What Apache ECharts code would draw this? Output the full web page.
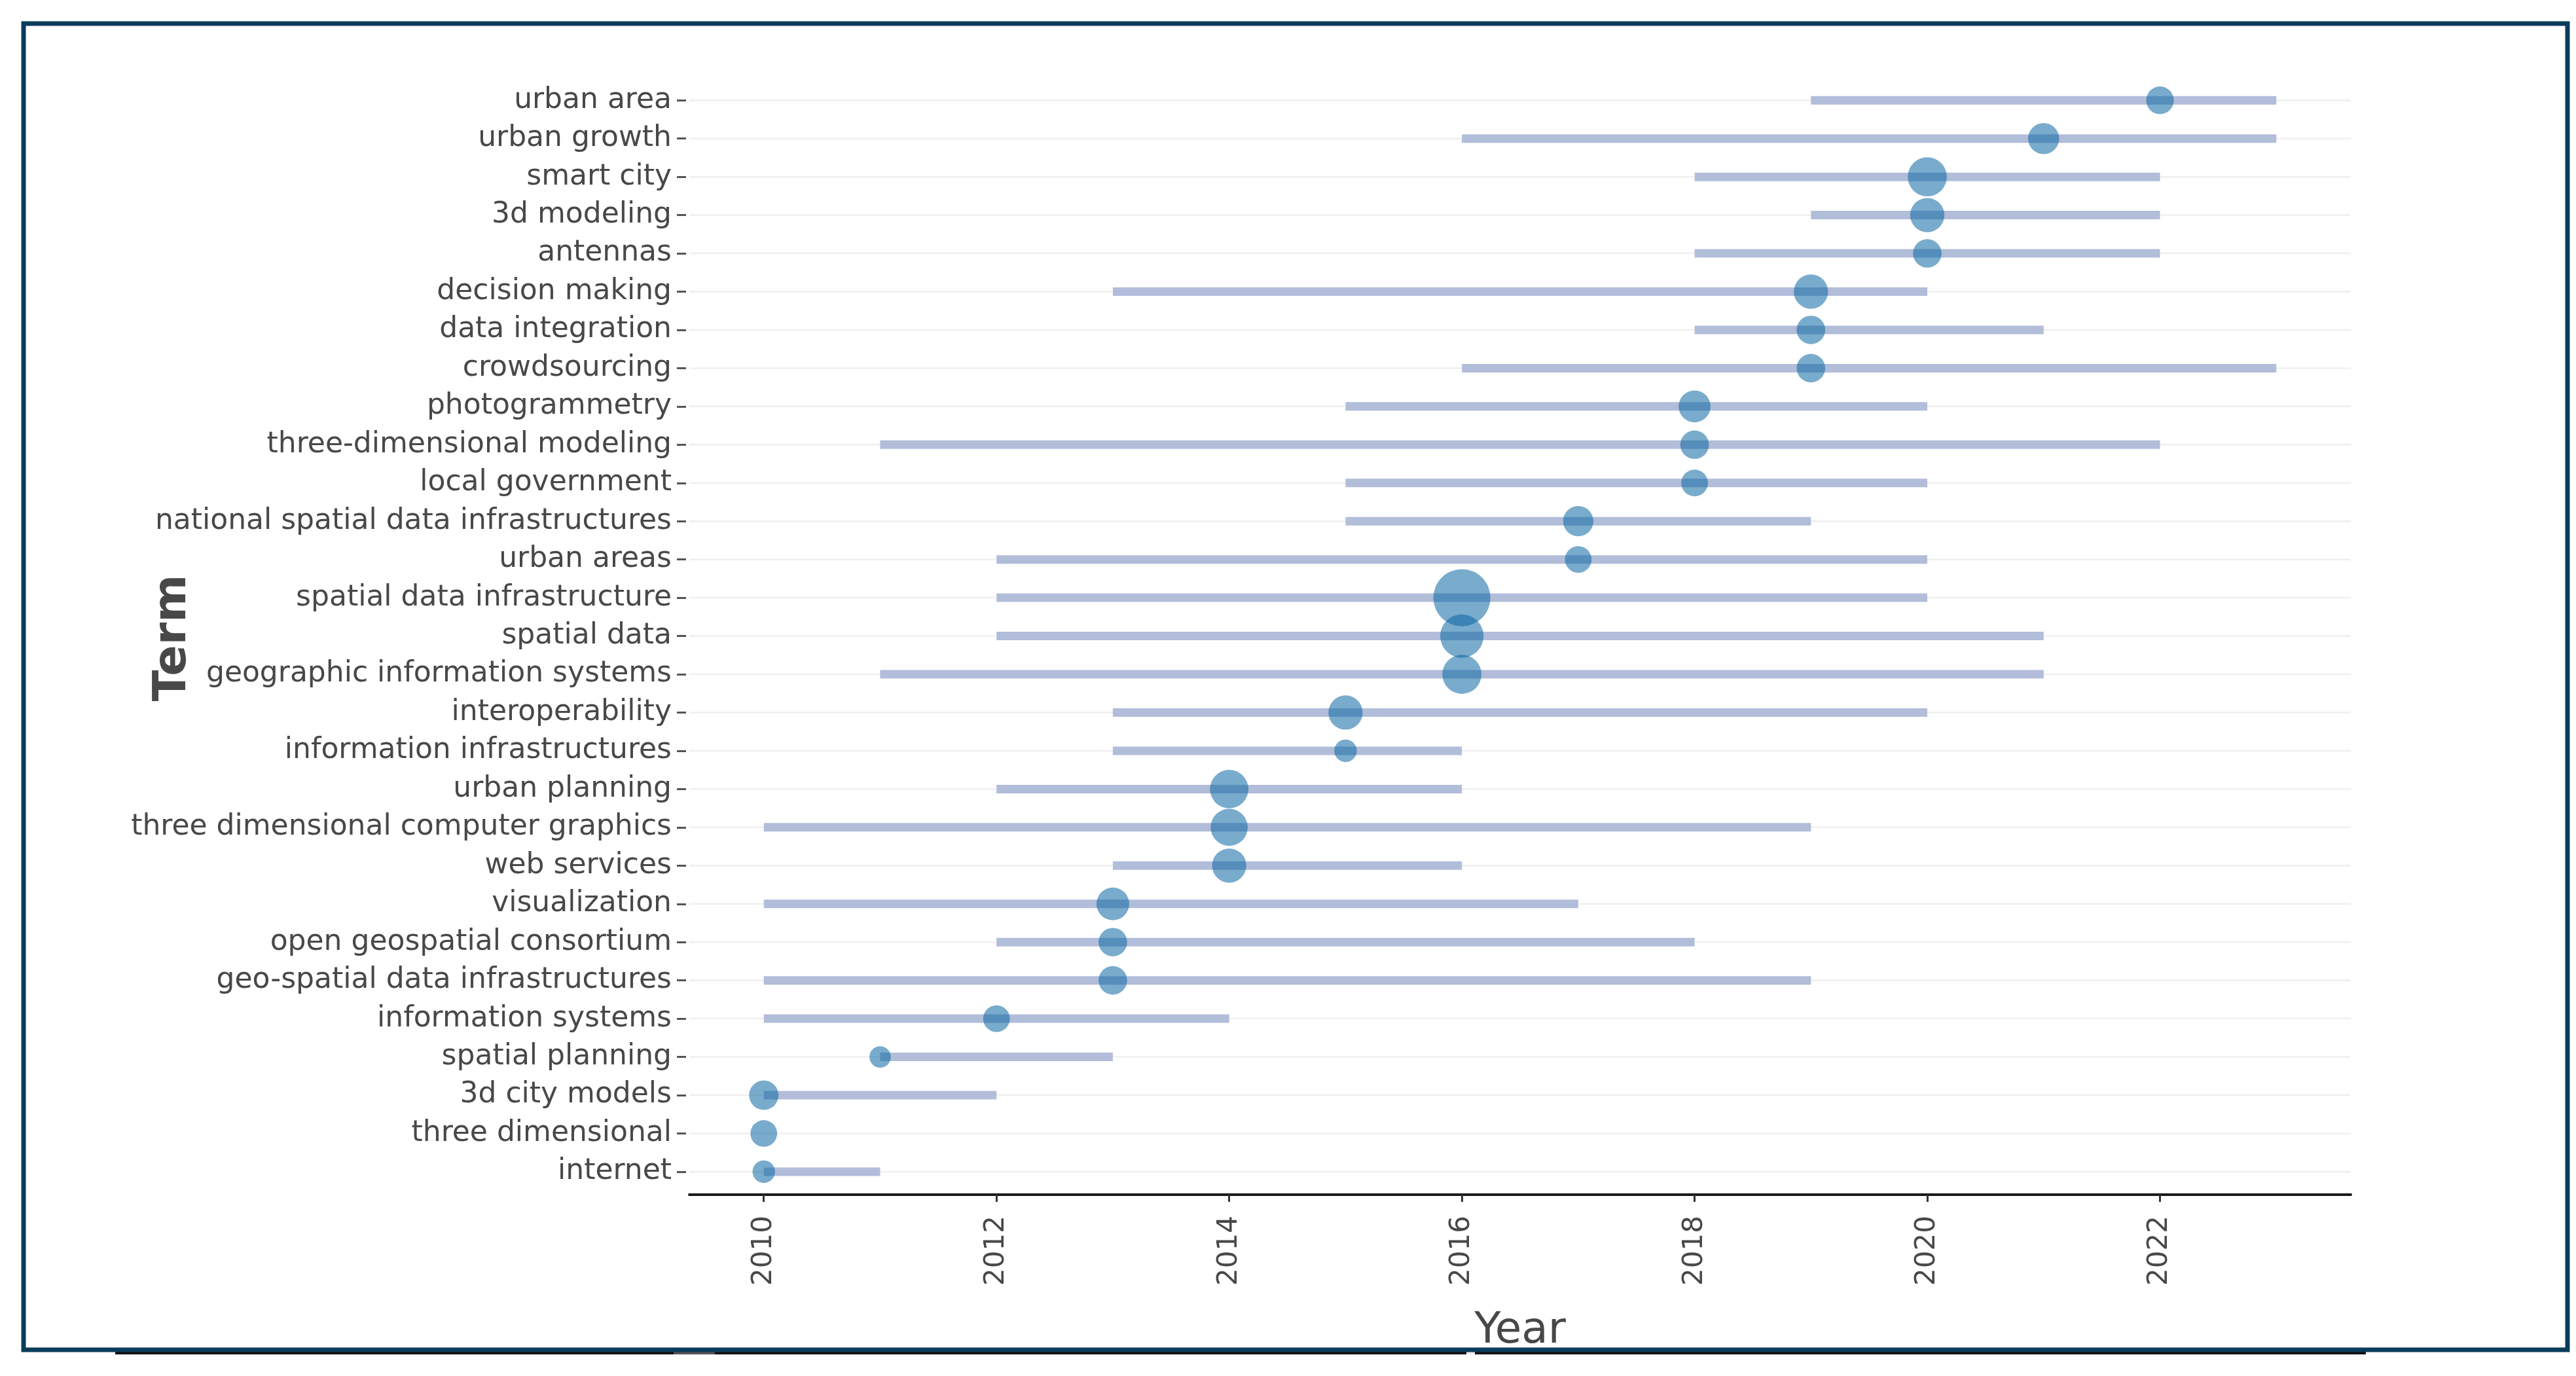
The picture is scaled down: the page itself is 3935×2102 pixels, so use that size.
<!DOCTYPE html>
<html>
<head>
<meta charset="utf-8">
<script src="https://cdn.jsdelivr.net/npm/echarts@6/dist/echarts.min.js"></script>
<style>
  html, body { margin: 0; padding: 0; background: #ffffff; }
  #chart { width: 3935px; height: 2102px; }
</style>
</head>
<body>
<div id="chart"></div>
<script>
// Terms, listed top to bottom as in the chart
const terms = [
  "urban area", "urban growth", "smart city", "3d modeling", "antennas",
  "decision making", "data integration", "crowdsourcing", "photogrammetry",
  "three-dimensional modeling", "local government", "national spatial data infrastructures",
  "urban areas", "spatial data infrastructure", "spatial data", "geographic information systems",
  "interoperability", "information infrastructures", "urban planning",
  "three dimensional computer graphics", "web services", "visualization",
  "open geospatial consortium", "geo-spatial data infrastructures", "information systems",
  "spatial planning", "3d city models", "three dimensional", "internet"
];
// Median year (dot position)
const yearMedian = [
  2022, 2021, 2020, 2020, 2020,
  2019, 2019, 2019, 2018,
  2018, 2018, 2017,
  2017, 2016, 2016, 2016,
  2015, 2015, 2014,
  2014, 2014, 2013,
  2013, 2013, 2012,
  2011, 2010, 2010, 2010
];
// First quartile year (bar start)
const yearQ1 = [
  2019, 2016, 2018, 2019, 2018,
  2013, 2018, 2016, 2015,
  2011, 2015, 2015,
  2012, 2012, 2012, 2011,
  2013, 2013, 2012,
  2010, 2013, 2010,
  2012, 2010, 2010,
  2011, 2010, 2010, 2010
];
// Third quartile year (bar end)
const yearQ3 = [
  2023, 2023, 2022, 2022, 2022,
  2020, 2021, 2023, 2020,
  2022, 2020, 2019,
  2020, 2020, 2021, 2021,
  2020, 2016, 2016,
  2019, 2016, 2017,
  2018, 2019, 2014,
  2013, 2012, 2010, 2011
];
// Term frequency (dot size), estimated
const termFreq = [
  15, 19, 30, 23, 16,
  23, 16, 16, 20,
  16, 14, 18,
  14, 64, 37, 30,
  23, 10, 29,
  27, 23, 21,
  16, 16, 14,
  9, 17, 14, 10
];
const yearTicks = [2010, 2012, 2014, 2016, 2018, 2020, 2022];
const termIndex = terms.map((t, i) => i);

const FONT = "'DejaVu Sans', Verdana, sans-serif";
const TEXT = "#484848";

const chart = echarts.init(document.getElementById('chart'), null, { renderer: 'canvas' });

const barData = terms.map((t, i) => [i, yearQ1[i], yearQ3[i]]);
const dotData = terms.map((t, i) => [yearMedian[i], i, termFreq[i]]);

const option = {
  backgroundColor: '#ffffff',
  animation: false,
  grid: {
    left: 1053, right: 344, top: 124, bottom: 2102 - 1825,
    containLabel: false, outerBoundsMode: 'none'
  },
  xAxis: {
    type: 'value',
    min: 2009.36,
    max: 2023.64,
    name: 'Year',
    nameLocation: 'middle',
    nameGap: 176,
    nameMoveOverlap: false,
    nameTextStyle: { fontFamily: FONT, fontSize: 66, color: TEXT },
    axisLine: { show: true, onZero: false, lineStyle: { color: '#1a1a1a', width: 4 } },
    axisTick: { show: true, length: 11, lineStyle: { color: '#333', width: 3 }, customValues: yearTicks },
    axisLabel: {
      show: true, rotate: 90, margin: 32,
      fontFamily: FONT, fontSize: 42, color: TEXT,
      customValues: yearTicks,
      formatter: v => String(v)
    },
    splitLine: { show: false }
  },
  yAxis: {
    type: 'value',
    inverse: true,
    min: -0.5,
    max: 28.6,
    offset: 5,
    name: 'Term',
    nameLocation: 'middle',
    nameRotate: 90,
    nameGap: 748,
    nameMoveOverlap: false,
    nameTextStyle: { fontFamily: FONT, fontSize: 70, fontWeight: 'bold', color: TEXT },
    axisLine: { show: false, onZero: false },
    axisTick: { show: true, length: 14, lineStyle: { color: '#555', width: 3 }, customValues: termIndex },
    axisLabel: {
      margin: 22, fontFamily: FONT, fontSize: 44, color: TEXT,
      customValues: termIndex,
      formatter: v => terms[Math.round(v)]
    },
    splitLine: { show: false }
  },
  series: [
    {
      type: 'custom',
      name: 'range',
      coordinateSystem: 'cartesian2d',
      encode: { x: [1, 2], y: 0 },
      data: barData,
      z: 1,
      silent: true,
      renderItem: function (params, api) {
        const idx = api.value(0);
        const p0 = api.coord([api.value(1), idx]);
        const p1 = api.coord([api.value(2), idx]);
        const cs = params.coordSys;
        const h = 13;
        return {
          type: 'group',
          children: [
            {
              type: 'line',
              shape: { x1: cs.x, y1: p0[1], x2: cs.x + cs.width, y2: p0[1] },
              style: { stroke: '#efefef', lineWidth: 2.5 }
            },
            {
              type: 'rect',
              shape: { x: p0[0], y: p0[1] - h / 2, width: p1[0] - p0[0], height: h },
              style: { fill: '#b1bdd9' }
            }
          ]
        };
      }
    },
    {
      type: 'scatter',
      name: 'median',
      data: dotData,
      z: 3,
      symbol: 'circle',
      symbolSize: function (val) { return 10.9 * Math.sqrt(val[2]); },
      itemStyle: { color: 'rgba(8,100,160,0.68)', borderWidth: 0 },
      emphasis: { disabled: true }
    }
  ],
  graphic: [
    { type: 'line', shape: { x1: 176, y1: 2067, x2: 3614, y2: 2067 }, style: { stroke: '#111', lineWidth: 4 }, z: 100 },
    { type: 'line', shape: { x1: 1029, y1: 2067, x2: 1092, y2: 2067 }, style: { stroke: '#555', lineWidth: 4 }, z: 101 },
    { type: 'line', shape: { x1: 2240, y1: 2067, x2: 2253, y2: 2067 }, style: { stroke: '#eeeeee', lineWidth: 4 }, z: 101 },
    { type: 'rect', shape: { x: 36, y: 36, width: 3886, height: 2026 }, style: { fill: 'none', stroke: '#0b3d5b', lineWidth: 7 }, z: 102 }
  ]
};

chart.setOption(option);
</script>
</body>
</html>
